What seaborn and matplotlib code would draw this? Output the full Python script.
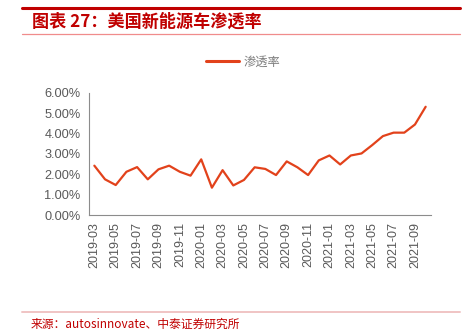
import matplotlib
matplotlib.use("Agg")
import matplotlib.pyplot as plt
from matplotlib.lines import Line2D
from matplotlib.ticker import FuncFormatter, FixedLocator
import seaborn as sns
import pandas as pd

months = ["2019-03", "2019-04", "2019-05", "2019-06", "2019-07", "2019-08", "2019-09", "2019-10",
          "2019-11", "2019-12", "2020-01", "2020-02", "2020-03", "2020-04", "2020-05", "2020-06",
          "2020-07", "2020-08", "2020-09", "2020-10", "2020-11", "2020-12", "2021-01", "2021-02",
          "2021-03", "2021-04", "2021-05", "2021-06", "2021-07", "2021-08", "2021-09", "2021-10"]
penetration = [2.42, 1.75, 1.47, 2.12, 2.35, 1.75, 2.24, 2.42,
               2.12, 1.93, 2.73, 1.34, 2.20, 1.45, 1.72, 2.34,
               2.26, 1.96, 2.63, 2.34, 1.96, 2.68, 2.92, 2.48,
               2.92, 3.02, 3.43, 3.87, 4.04, 4.04, 4.44, 5.31]
series_name = "渗透率"
title = "图表 27：美国新能源车渗透率"
source = "来源：autosinnovate、中泰证券研究所"

sns.set_theme(style="white")
plt.rcParams["font.family"] = ["Liberation Sans", "Noto Sans CJK SC", "DejaVu Sans"]

W, H = 465, 329
fig = plt.figure(figsize=(W / 100, H / 100), dpi=100)
ax = fig.add_axes([89 / W, 1 - 215 / H, (431 - 89) / W, (215 - 92.7) / H])

df = pd.DataFrame({"month": months, "value": penetration})
sns.lineplot(data=df, x="month", y="value", ax=ax, color="#E2421B", linewidth=1.6,
             label=series_name, sort=False)

n = len(months)
ax.set_xlim(-0.5, n - 0.5)
ax.set_ylim(0, 6)
ax.set_yticks([0, 1, 2, 3, 4, 5, 6])
ax.yaxis.set_major_formatter(FuncFormatter(lambda v, p: f"{v:.2f}%"))

# boundary ticks every two categories, labels at category centres
ax.xaxis.set_major_locator(FixedLocator([i - 0.5 for i in range(0, n + 1, 2)]))
ax.xaxis.set_minor_locator(FixedLocator(list(range(0, n, 2))))
ax.xaxis.set_major_formatter(FuncFormatter(lambda v, p: ""))
ax.xaxis.set_minor_formatter(FuncFormatter(lambda v, p: months[int(round(v))]))
ax.tick_params(axis="x", which="minor", length=0, rotation=90, labelsize=9,
               labelcolor="#595959", pad=5)
ax.tick_params(axis="x", which="major", length=4, width=0.8, color="#8C8C8C", direction="out")
ax.tick_params(axis="y", length=4, width=0.8, color="#8C8C8C", direction="out",
               labelsize=9.2, labelcolor="#595959", pad=2)
ax.set_xlabel("")
ax.set_ylabel("")

for s in ["top", "right"]:
    ax.spines[s].set_visible(False)
for s in ["left", "bottom"]:
    ax.spines[s].set_color("#8C8C8C")
    ax.spines[s].set_linewidth(0.8)

leg = ax.legend(loc="center", bbox_to_anchor=(243 / W, 1 - 62 / H),
                bbox_transform=fig.transFigure, frameon=False, handlelength=2.7,
                handletextpad=0.4, prop={"family": ["Noto Sans CJK SC", "DejaVu Sans"], "size": 8.8})
for t in leg.get_texts():
    t.set_color("#7F7F7F")
for l in leg.get_lines():
    l.set_linewidth(2.2)

# decorative frame lines
fig.add_artist(Line2D([22 / W, 460 / W], [1 - 7.5 / H, 1 - 7.5 / H], color="#C00000", linewidth=2.2))
fig.add_artist(Line2D([22 / W, 460 / W], [1 - 34 / H, 1 - 34 / H], color="#F08C8C", linewidth=0.9))
fig.add_artist(Line2D([22 / W, 460 / W], [1 - 311.7 / H, 1 - 311.7 / H], color="#F0C4C4", linewidth=1.4))

fig.text(32 / W, 1 - 21.5 / H, title, color="#C00000", fontsize=12.3, fontweight="bold",
         fontstyle="italic", family=["Noto Sans CJK SC", "DejaVu Sans"], va="center", ha="left")
fig.text(31 / W, 1 - 324 / H, source, color="#C00000", fontsize=8.5,
         family=["Noto Sans CJK SC", "Liberation Sans"], va="center", ha="left")

fig.savefig("out.png", dpi=100)
